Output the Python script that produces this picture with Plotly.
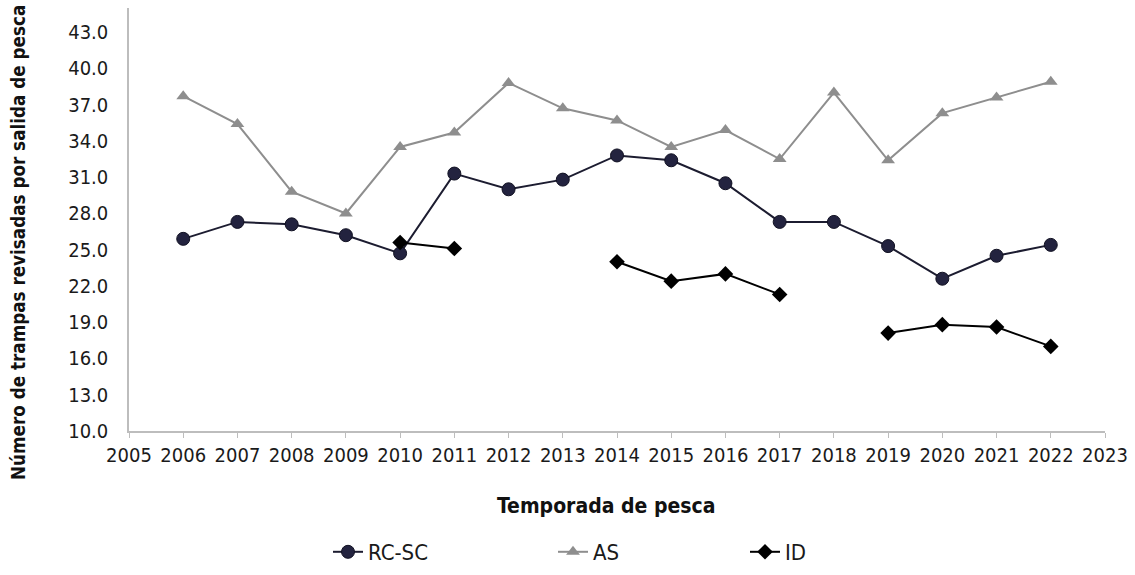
import plotly.graph_objects as go

years = list(range(2006, 2023))
rc_sc = [25.9, 27.3, 27.1, 26.2, 24.7, 31.3, 30.0, 30.8, 32.8, 32.4, 30.5, 27.3, 27.3, 25.3, 22.6, 24.5, 25.4]
as_vals = [37.7, 35.4, 29.8, 28.0, 33.5, 34.7, 38.8, 36.7, 35.7, 33.5, 34.9, 32.5, 38.0, 32.4, 36.3, 37.6, 38.9]
id_vals = [None, None, None, None, 25.6, 25.1, None, None, 24.0, 22.4, 23.0, 21.3, None, 18.1, 18.8, 18.6, 17.0]

series_names = ["RC-SC", "AS", "ID"]
x_title = "Temporada de pesca"
y_title = "Número de trampas revisadas por salida de pesca"

FONT = "DejaVu Sans Condensed, Liberation Sans Narrow, Arial Narrow, sans-serif"

L, R, T, B = 129, 30, 8, 144
W, H = 1135, 575
pw = W - L - R
ph = H - T - B

def px_x(p):
    return (p - L) / pw

def px_y(p):
    return (H - B - p) / ph

def cont_y(p):
    return (H - p) / H

fig = go.Figure()
fig.add_trace(go.Scatter(
    x=years, y=rc_sc, name=series_names[0], mode="lines+markers",
    line=dict(color="#1c1c30", width=2),
    marker=dict(symbol="circle", size=13, color="#23233f", line=dict(color="#111122", width=1)),
    legend="legend"))
fig.add_trace(go.Scatter(
    x=years, y=as_vals, name=series_names[1], mode="lines+markers",
    line=dict(color="#8e8e8e", width=2),
    marker=dict(symbol="triangle-up", size=12, color="#8e8e8e"),
    legend="legend2"))
fig.add_trace(go.Scatter(
    x=years, y=id_vals, name=series_names[2], mode="lines+markers",
    line=dict(color="#000000", width=2),
    marker=dict(symbol="diamond", size=12, color="#000000"),
    connectgaps=False,
    legend="legend3"))

leg_common = dict(orientation="h", yanchor="middle", xanchor="left",
                  xref="container", yref="container",
                  font=dict(family=FONT, size=22, color="#1a1a1a"),
                  bgcolor="rgba(0,0,0,0)", itemwidth=30)

fig.update_layout(
    width=W, height=H,
    margin=dict(l=L, r=R, t=T, b=B, autoexpand=False),
    paper_bgcolor="white", plot_bgcolor="white",
    font=dict(family=FONT, size=20, color="#1a1a1a"),
    showlegend=True,
    legend=dict(x=328 / W, y=cont_y(552), **leg_common),
    legend2=dict(x=553 / W, y=cont_y(552), **leg_common),
    legend3=dict(x=745 / W, y=cont_y(552), **leg_common),
    xaxis=dict(range=[2005, 2023], tick0=2005, dtick=1, showgrid=False,
               showline=True, linecolor="#bdbdbd", linewidth=1.5,
               ticks="outside", ticklen=5, tickcolor="#bdbdbd",
               tickfont=dict(family=FONT, size=20, color="#1a1a1a"),
               zeroline=False),
    yaxis=dict(range=[10, 45], tick0=10, dtick=3, tickformat=".1f",
               showgrid=False, showline=True, linecolor="#bdbdbd", linewidth=1.5,
               ticks="", ticklabelstandoff=15,
               tickfont=dict(family=FONT, size=20, color="#1a1a1a"),
               zeroline=False),
    annotations=[
        dict(text=f"<b>{x_title}</b>", xref="paper", yref="paper",
             x=px_x(606), y=px_y(506), xanchor="center", yanchor="middle",
             showarrow=False, font=dict(family=FONT, size=21, color="#111111")),
        dict(text=f"<b>{y_title}</b>", xref="paper", yref="paper",
             x=px_x(18), y=px_y(243), xanchor="center", yanchor="middle",
             textangle=-90, showarrow=False,
             font=dict(family=FONT, size=18.7, color="#111111")),
    ],
)

fig.write_html("out.html", config={"displayModeBar": False},
               post_script="document.body.style.margin='0';")
